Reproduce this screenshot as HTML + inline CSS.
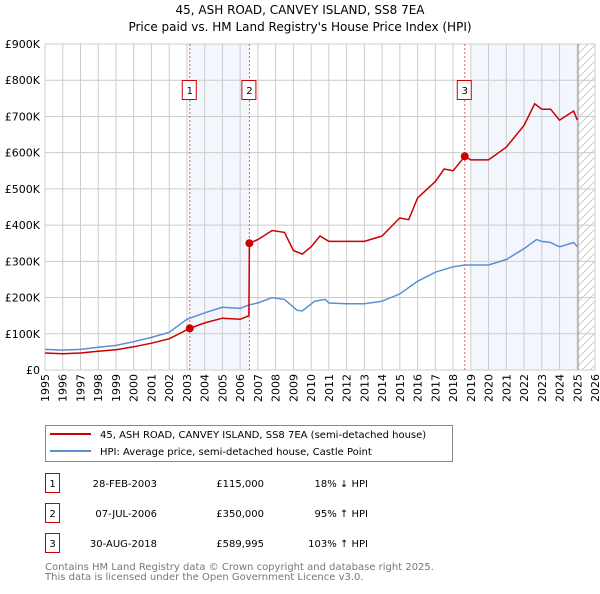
<!DOCTYPE html>
<html><head><meta charset="utf-8"><style>
body{margin:0;background:#fff;width:600px;height:590px;overflow:hidden;font-family:"DejaVu Sans","Liberation Sans",sans-serif}
svg text{font-family:"DejaVu Sans","Liberation Sans",sans-serif}
</style></head><body>
<svg id="c" width="600" height="590" viewBox="0 0 600 590">
<text x="300" y="14" text-anchor="middle" font-size="12">45, ASH ROAD, CANVEY ISLAND, SS8 7EA</text>
<text x="300" y="31" text-anchor="middle" font-size="12">Price paid vs. HM Land Registry's House Price Index (HPI)</text>
<g id="grid"></g><g id="marks"></g><g id="axes"></g>
<g>
<rect x="45.5" y="425.5" width="407" height="36" fill="#fff" stroke="#888"/>
<line x1="50" y1="434" x2="91" y2="434" stroke="#cc0000" stroke-width="2"/>
<text x="100" y="438" font-size="10">45, ASH ROAD, CANVEY ISLAND, SS8 7EA (semi-detached house)</text>
<line x1="50" y1="451" x2="91" y2="451" stroke="#5b8fd4" stroke-width="2"/>
<text x="100" y="455" font-size="10">HPI: Average price, semi-detached house, Castle Point</text>
</g>
<g id="table" font-size="10"></g>
<text x="45" y="570" font-size="10" fill="#777">Contains HM Land Registry data © Crown copyright and database right 2025.</text>
<text x="45" y="580" font-size="10" fill="#777">This data is licensed under the Open Government Licence v3.0.</text>
</svg>
<script>
const hpiYears=[1995,1996,1997,1998,1999,2000,2001,2002,2003,2004,2005,2006,2006.5,2007,2007.8,2008.5,2009.2,2009.5,2010.2,2010.8,2011,2012,2013,2014,2015,2016,2017,2018,2018.66,2019,2020,2021,2022,2022.7,2023,2023.5,2024,2024.8,2025];
const hpiValues=[57,55,57,63,68,78,90,104,140,158,173,170,180,185,200,195,165,163,190,195,185,183,183,190,210,245,270,285,290,290,290,305,335,360,355,352,340,352,340];
const ppYears=[1995,1996,1997,1998,1999,2000,2001,2002,2003.16,2004,2005,2006,2006.49,2006.52,2007,2007.8,2008.5,2009,2009.5,2010,2010.5,2011,2012,2013,2014,2015,2015.5,2016,2017,2017.5,2018,2018.66,2019,2020,2021,2022,2022.6,2023,2023.5,2024,2024.8,2025];
const ppValues=[47,45,47,52,56,64,74,86,115,130,143,140,150,350,360,385,380,330,320,340,370,355,355,355,370,420,415,475,520,555,550,590,580,580,615,675,735,720,720,690,715,690];
const saleYears=[2003.16,2006.52,2018.66];
const saleValues=[115,350,589.995];
const saleDates=["28-FEB-2003","07-JUL-2006","30-AUG-2018"];
const salePrices=["£115,000","£350,000","£589,995"];
const saleHpi=["18% ↓ HPI","95% ↑ HPI","103% ↑ HPI"];
const yTicks=[0,100,200,300,400,500,600,700,800,900];
const yLabels=["£0","£100K","£200K","£300K","£400K","£500K","£600K","£700K","£800K","£900K"];
const xTicks=[];for(let y=1995;y<=2026;y++)xTicks.push(y);

const NS="http://www.w3.org/2000/svg";
const X0=45,X1=595,Y0=370,Y1=44;
const xs=v=>X0+(v-1995)/31*(X1-X0);
const ys=v=>Y0-v/900*(Y0-Y1);
function mk(t,a,p){const e=document.createElementNS(NS,t);for(const k in a)e.setAttribute(k,a[k]);p.appendChild(e);return e;}
const grid=document.getElementById('grid'),marks=document.getElementById('marks'),axes=document.getElementById('axes'),table=document.getElementById('table');
let r=mk('rect',{x:xs(2003.16),y:Y1,width:xs(2006.52)-xs(2003.16),height:Y0-Y1,fill:'#f3f6fd'},grid);


r=mk('rect',{x:xs(2019),y:Y1,width:xs(2025.05)-xs(2019),height:Y0-Y1,fill:'#f3f6fd'},grid);


const defs=mk('defs',{},grid);
const pat=mk('pattern',{id:'h',width:8,height:8,patternUnits:'userSpaceOnUse'},defs);
mk('path',{d:'M0 8L8 0',stroke:'#ccc','stroke-width':1},pat);
r=mk('rect',{x:xs(2025.05),y:Y1,width:X1-xs(2025.05),height:Y0-Y1,fill:'url(#h)'},grid);


yTicks.forEach((v,i)=>{
 mk('line',{x1:X0,x2:X1,y1:ys(v),y2:ys(v),stroke:'#ccc'},grid);
 const t=mk('text',{x:X0-5,y:ys(v)+4,'text-anchor':'end','font-size':11},axes);t.textContent=yLabels[i];
 
 
});
xTicks.forEach(v=>{
 mk('line',{x1:xs(v),x2:xs(v),y1:Y1,y2:Y0,stroke:'#ccc'},grid);
 const t=mk('text',{transform:`translate(${xs(v)+4},${Y0+4}) rotate(-90)`,'text-anchor':'end','font-size':11},axes);t.textContent=v;
 
 
});
mk('line',{x1:xs(2025.05),x2:xs(2025.05),y1:Y1,y2:Y0,stroke:'#999'},grid);
saleYears.forEach((v,i)=>{
 mk('line',{x1:xs(v),x2:xs(v),y1:Y1,y2:Y0,stroke:'#e06060','stroke-dasharray':'2,2'},grid);
 const g=mk('g',{},marks);
 
 
 mk('rect',{x:xs(v)-7.5,y:80.5,width:14,height:19,fill:'#fff',stroke:'#cc0000'},g);
 const t=mk('text',{x:xs(v),y:94,'text-anchor':'middle','font-size':10},g);t.textContent=i+1;
});
function path(xa,va){return xa.map((x,i)=>(i?'L':'M')+xs(x).toFixed(1)+' '+ys(va[i]).toFixed(1)).join(' ');}
let p=mk('path',{d:path(hpiYears,hpiValues),fill:'none',stroke:'#5b8fd4','stroke-width':1.5},marks);


p=mk('path',{d:path(ppYears,ppValues),fill:'none',stroke:'#cc0000','stroke-width':1.5},marks);


saleYears.forEach((v,i)=>{
 const c=mk('circle',{cx:xs(v),cy:ys(saleValues[i]),r:4,fill:'#cc0000'},marks);
 
 
});
const rowsY=[484,514,544];
saleDates.forEach((d,i)=>{
 const g=mk('g',{},table);
 
 
 mk('rect',{x:45.5,y:rowsY[i]-10.5,width:14,height:19,fill:'#fff',stroke:'#cc0000'},g);
 let t=mk('text',{x:52.5,y:rowsY[i]+3,'text-anchor':'middle'},g);t.textContent=i+1;
 t=mk('text',{x:157,y:rowsY[i]+3,'text-anchor':'end'},g);t.textContent=d;
 t=mk('text',{x:264,y:rowsY[i]+3,'text-anchor':'end'},g);t.textContent=salePrices[i];
 t=mk('text',{x:368,y:rowsY[i]+3,'text-anchor':'end'},g);t.textContent=saleHpi[i];
});
</script>
</body></html>
